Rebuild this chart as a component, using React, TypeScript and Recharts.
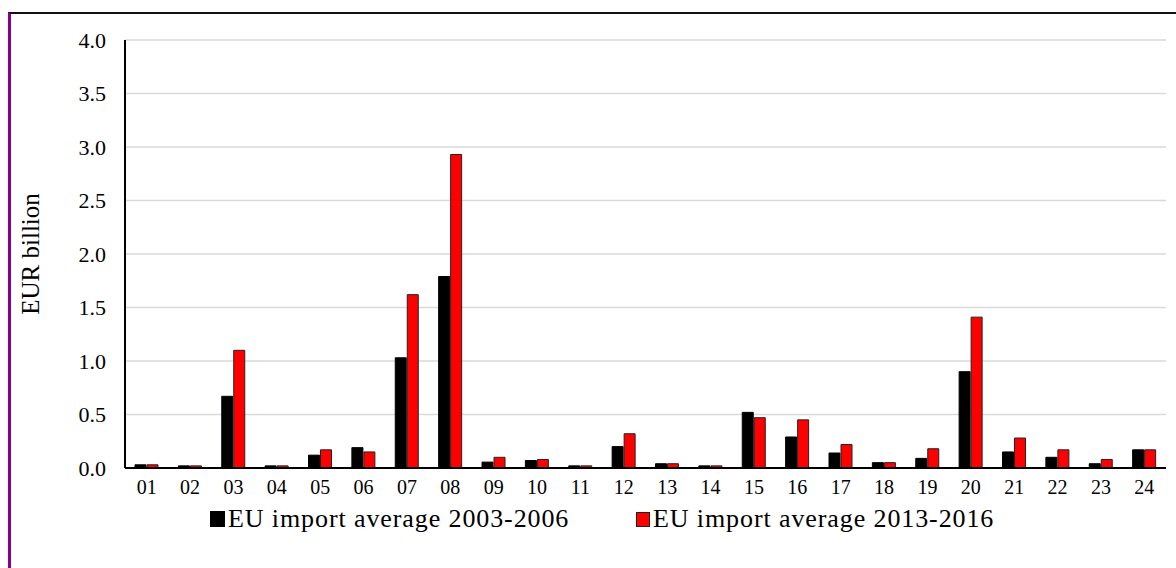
import React from "react";
import { BarChart, Bar, XAxis, YAxis, CartesianGrid } from "recharts";

const categories = ["01","02","03","04","05","06","07","08","09","10","11","12","13","14","15","16","17","18","19","20","21","22","23","24"];
const avg2003_2006 = [0.03,0.02,0.67,0.02,0.12,0.19,1.03,1.79,0.055,0.07,0.02,0.20,0.04,0.02,0.52,0.29,0.14,0.05,0.09,0.90,0.15,0.10,0.04,0.17];
const avg2013_2016 = [0.03,0.02,1.10,0.02,0.17,0.15,1.62,2.93,0.10,0.08,0.02,0.32,0.04,0.02,0.47,0.45,0.22,0.05,0.18,1.41,0.28,0.17,0.08,0.17];
const yTicks = [0, 0.5, 1.0, 1.5, 2.0, 2.5, 3.0, 3.5, 4.0];
const seriesNames = ["EU import average 2003-2006", "EU import average 2013-2016"];

const data = categories.map((c, i) => ({ cat: c, a: avg2003_2006[i], b: avg2013_2016[i] }));

const FONT = "Liberation Serif, Tinos, Times New Roman, DejaVu Serif, serif";

const legendItemStyle: React.CSSProperties = {
  position: "absolute",
  top: 503,
  display: "flex",
  alignItems: "center",
  fontSize: 26,
  letterSpacing: 0.9,
  color: "#000",
  lineHeight: "32px",
  whiteSpace: "nowrap",
};

export default function App() {
  return (
    <div style={{ position: "absolute", left: 0, top: 0, width: 1176, height: 568, background: "#fff", fontFamily: FONT }}>
      <div style={{ position: "absolute", left: 8, top: 12, width: 1168, height: 556, borderTop: "2px solid #111", borderLeft: "3px solid #8b008b", boxSizing: "border-box" }} />
      <BarChart
        width={1176}
        height={568}
        data={data}
        margin={{ top: 40, right: 10, left: 0, bottom: 70 }}
        barGap={1}
        barCategoryGap="21%"
        style={{ position: "absolute", left: 0, top: 0 }}
      >
        <CartesianGrid vertical={false} stroke="#d9d9d9" strokeWidth={1.5} />
        <XAxis
          dataKey="cat"
          tickLine={false}
          axisLine={{ stroke: "#000", strokeWidth: 2 }}
          tick={{ fontFamily: FONT, fontSize: 20, fill: "#000" }}
          tickMargin={6}
          interval={0}
          height={30}
        />
        <YAxis
          domain={[0, 4]}
          ticks={yTicks}
          tickFormatter={(v: number) => v.toFixed(1)}
          tickLine={false}
          axisLine={{ stroke: "#000", strokeWidth: 2 }}
          tick={{ fontFamily: FONT, fontSize: 22, fill: "#000" }}
          tickMargin={13}
          width={125}
          label={{ value: "EUR billion", angle: -90, position: "insideLeft", offset: 30, style: { fontFamily: FONT, fontSize: 25, fill: "#000", textAnchor: "middle" } }}
        />
        <Bar dataKey="a" name={seriesNames[0]} fill="#000" stroke="#000" strokeWidth={1} barSize={11} isAnimationActive={false} />
        <Bar dataKey="b" name={seriesNames[1]} fill="#ff0000" stroke="#222" strokeWidth={1} barSize={11} isAnimationActive={false} />
      </BarChart>
      <div style={{ ...legendItemStyle, left: 210 }}>
        <span style={{ display: "inline-block", width: 13, height: 14, background: "#000", border: "1px solid #000", marginRight: 3 }} />
        <span>{seriesNames[0]}</span>
      </div>
      <div style={{ ...legendItemStyle, left: 636 }}>
        <span style={{ display: "inline-block", width: 12, height: 13, background: "#ff0000", border: "1px solid #222", marginRight: 3 }} />
        <span>{seriesNames[1]}</span>
      </div>
    </div>
  );
}
